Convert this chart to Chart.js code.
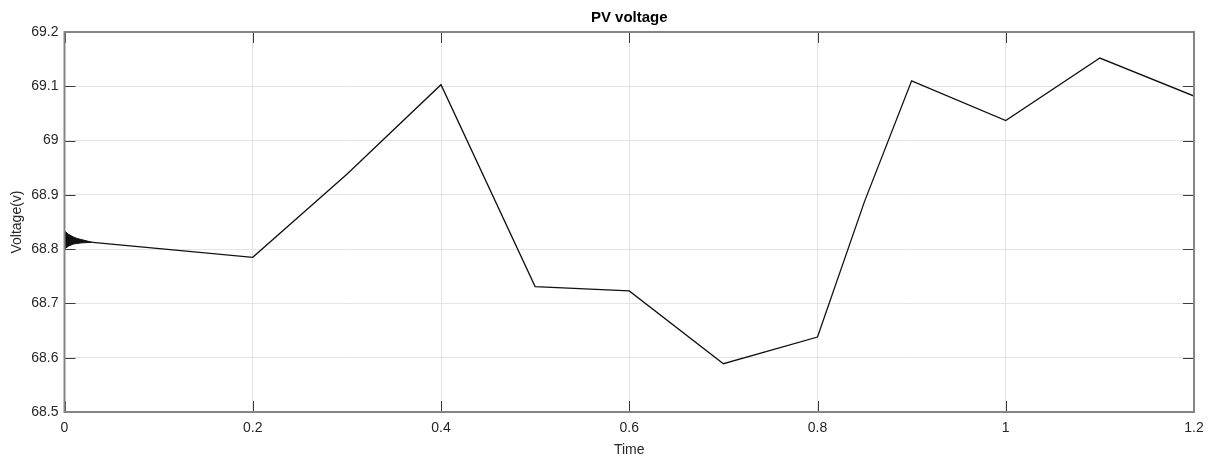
<!DOCTYPE html>
<html>
<head>
<meta charset="utf-8">
<title>PV voltage</title>
<script src="https://cdn.jsdelivr.net/npm/chart.js@4/dist/chart.umd.min.js"></script>
<style>
  html, body { margin: 0; padding: 0; background: #ffffff; }
  #wrap { width: 1222px; height: 460px; }
</style>
</head>
<body>
<div id="wrap"><canvas id="pv"></canvas></div>
<script>
// Start-up ripple envelope of the PV voltage (s, V)
const rippleTime  = [0, 0.0045, 0.0096, 0.0134, 0.0170, 0.0198, 0.0260, 0.0300];
const rippleUpper = [68.8334, 68.8270, 68.8222, 68.8196, 68.8180, 68.8168, 68.8141, 68.8126];
const rippleLower = [68.8003, 68.8058, 68.8095, 68.8105, 68.8113, 68.8117, 68.8122, 68.8126];

// Settled PV voltage after each irradiance step (s, V)
const stepTime = [0.030, 0.2, 0.3, 0.4, 0.5, 0.6, 0.7, 0.8, 0.85, 0.9, 1.0, 1.1, 1.2];
const stepVoltage = [68.8126, 68.785, 68.938, 69.103, 68.731, 68.723, 68.589, 68.638, 68.888, 69.110, 69.037, 69.152, 69.082];

// Axis ticks
const xTickValues = [0, 0.2, 0.4, 0.6, 0.8, 1.0, 1.2];
const xTickLabels = ['0', '0.2', '0.4', '0.6', '0.8', '1', '1.2'];
const yTickValues = [68.5, 68.6, 68.7, 68.8, 68.9, 69.0, 69.1, 69.2];
const yTickLabels = ['68.5', '68.6', '68.7', '68.8', '68.9', '69', '69.1', '69.2'];

const toXY = (xs, ys) => xs.map((t, i) => ({ x: t, y: ys[i] }));

const FONT = 'Liberation Sans, Arial, Helvetica, sans-serif';
const TRACE = '#111111';

// Center the title over the plot area rather than the whole canvas
const titleOverPlot = {
  id: 'titleOverPlot',
  afterLayout(chart) {
    const tb = chart.titleBlock;
    if (tb) {
      tb.left = chart.chartArea.left;
      tb.right = chart.chartArea.right;
      tb.width = tb.right - tb.left;
    }
  }
};

// Box around the plot area and inward tick marks on all four sides
const axesBox = {
  id: 'axesBox',
  afterDatasetsDraw(chart) {
    const { ctx, chartArea: a, scales: { x, y } } = chart;
    const len = 11;
    ctx.save();
    ctx.strokeStyle = '#3a3a3a';
    ctx.lineWidth = 1;
    ctx.beginPath();
    xTickValues.forEach(v => {
      const px = Math.round(x.getPixelForValue(v)) + 0.5;
      ctx.moveTo(px, a.bottom); ctx.lineTo(px, a.bottom - len);
      ctx.moveTo(px, a.top); ctx.lineTo(px, a.top + len);
    });
    yTickValues.forEach(v => {
      const py = Math.round(y.getPixelForValue(v)) + 0.5;
      ctx.moveTo(a.left, py); ctx.lineTo(a.left + len, py);
      ctx.moveTo(a.right, py); ctx.lineTo(a.right - len, py);
    });
    ctx.stroke();
    ctx.strokeStyle = '#858585';
    ctx.lineWidth = 2;
    ctx.strokeRect(a.left, a.top, a.right - a.left, a.bottom - a.top);
    ctx.restore();
  }
};

new Chart(document.getElementById('pv'), {
  type: 'line',
  data: {
    datasets: [
      {
        label: 'PV voltage',
        data: toXY(stepTime, stepVoltage),
        borderColor: TRACE,
        borderWidth: 1.3,
        pointRadius: 0,
        tension: 0,
        fill: false
      },
      {
        label: 'ripple max',
        data: toXY(rippleTime, rippleUpper),
        borderColor: TRACE,
        borderWidth: 1,
        pointRadius: 0,
        tension: 0,
        fill: false
      },
      {
        label: 'ripple min',
        data: toXY(rippleTime, rippleLower),
        borderColor: TRACE,
        backgroundColor: TRACE,
        borderWidth: 1,
        pointRadius: 0,
        tension: 0,
        fill: '-1'
      }
    ]
  },
  options: {
    responsive: true,
    maintainAspectRatio: false,
    animation: false,
    layout: { padding: { top: 0, right: 28, bottom: 0, left: 0 } },
    plugins: {
      legend: { display: false },
      tooltip: { enabled: false },
      title: {
        display: true,
        text: 'PV voltage',
        color: '#000000',
        font: { family: FONT, size: 15, weight: 'bold' },
        padding: { top: 9, bottom: 5 }
      }
    },
    scales: {
      x: {
        type: 'linear',
        min: 0,
        max: 1.2,
        afterBuildTicks: s => { s.ticks = xTickValues.map(v => ({ value: v })); },
        afterFit: s => { s.height = 48; },
        ticks: {
          color: '#262626',
          font: { family: FONT, size: 14 },
          padding: 8,
          maxRotation: 0,
          callback: (v, i) => xTickLabels[i]
        },
        grid: { color: '#e4e4e4', lineWidth: 1, drawTicks: false },
        border: { display: false },
        title: {
          display: true,
          text: 'Time',
          color: '#262626',
          font: { family: FONT, size: 14 },
          padding: { top: 4, bottom: 1 }
        }
      },
      y: {
        type: 'linear',
        min: 68.5,
        max: 69.2,
        afterBuildTicks: s => { s.ticks = yTickValues.map(v => ({ value: v })); },
        afterFit: s => { s.width = 64.5; },
        ticks: {
          color: '#262626',
          font: { family: FONT, size: 14 },
          padding: 6,
          callback: (v, i) => yTickLabels[i]
        },
        grid: { color: '#e4e4e4', lineWidth: 1, drawTicks: false },
        border: { display: false },
        title: {
          display: true,
          text: 'Voltage(v)',
          color: '#262626',
          font: { family: FONT, size: 14 },
          padding: { top: 9, bottom: 4 }
        }
      }
    }
  },
  plugins: [titleOverPlot, axesBox]
});
</script>
</body>
</html>
